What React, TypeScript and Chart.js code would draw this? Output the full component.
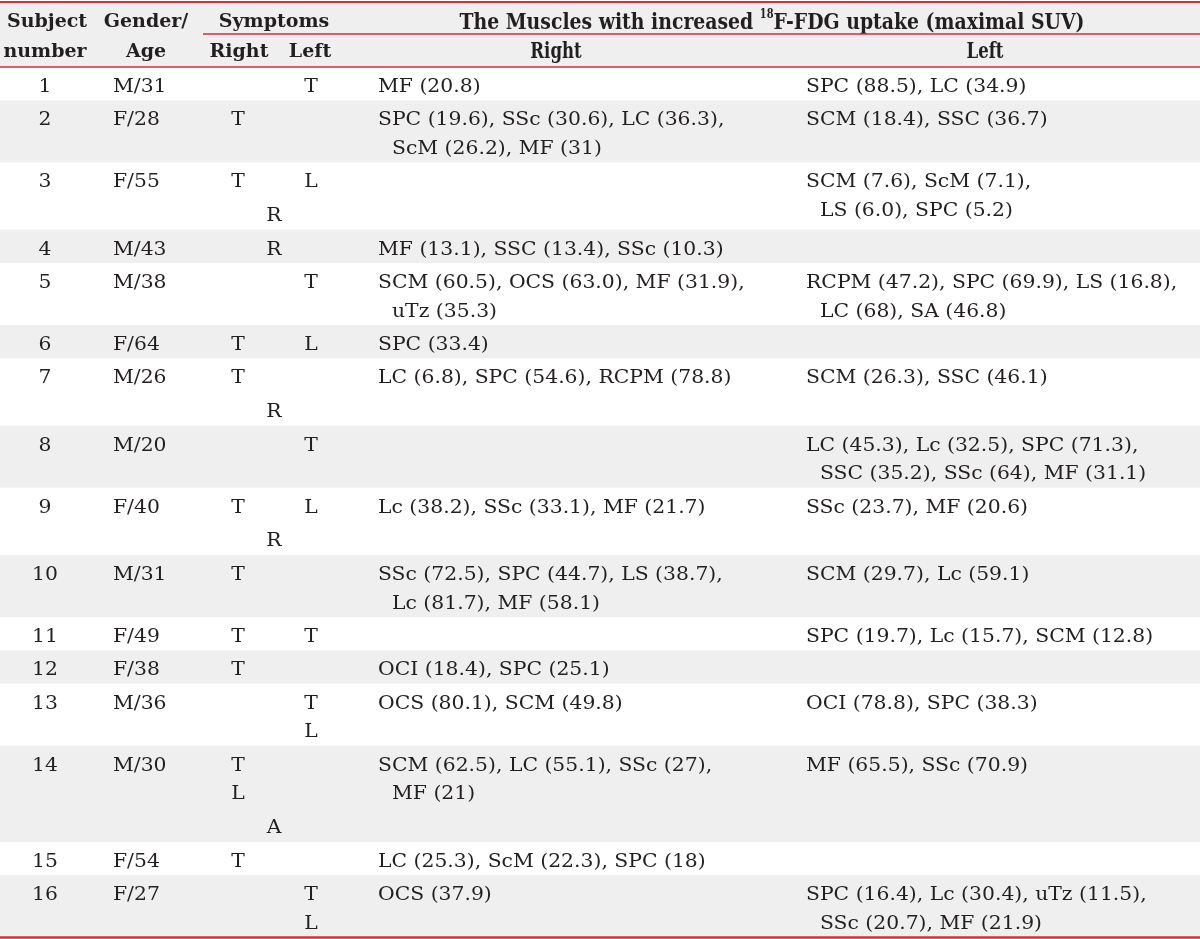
import React, { useEffect, useRef } from "react";
import { Chart, registerables } from "chart.js";

Chart.register(...registerables);

// ---------- DATA ----------
const subjectNumbers = ["1", "2", "3", "4", "5", "6", "7", "8", "9", "10", "11", "12", "13", "14", "15", "16"];
const genderAge = ["M/31", "F/28", "F/55", "M/43", "M/38", "F/64", "M/26", "M/20", "F/40", "M/31", "F/49", "F/38", "M/36", "M/30", "F/54", "F/27"];
const symptomRight: string[][] = [[], ["T"], ["T"], [], [], ["T"], ["T"], [], ["T"], ["T"], ["T"], ["T"], [], ["T", "L"], ["T"], []];
const symptomLeft: string[][] = [["T"], [], ["L"], [], ["T"], ["L"], [], ["T"], ["L"], [], ["T"], [], ["T", "L"], [], [], ["T", "L"]];
const symptomBothText = ["", "", "R", "R", "", "", "R", "", "R", "", "", "", "", "A", "", ""];
const symptomBothLine = [0, 0, 2, 1, 0, 0, 2, 0, 2, 0, 0, 0, 0, 3, 0, 0];
const musclesRight: string[][] = [
  ["MF (20.8)"],
  ["SPC (19.6), SSc (30.6), LC (36.3),", "ScM (26.2), MF (31)"],
  [],
  ["MF (13.1), SSC (13.4), SSc (10.3)"],
  ["SCM (60.5), OCS (63.0), MF (31.9),", "uTz (35.3)"],
  ["SPC (33.4)"],
  ["LC (6.8), SPC (54.6), RCPM (78.8)"],
  [],
  ["Lc (38.2), SSc (33.1), MF (21.7)"],
  ["SSc (72.5), SPC (44.7), LS (38.7),", "Lc (81.7), MF (58.1)"],
  [],
  ["OCI (18.4), SPC (25.1)"],
  ["OCS (80.1), SCM (49.8)"],
  ["SCM (62.5), LC (55.1), SSc (27),", "MF (21)"],
  ["LC (25.3), ScM (22.3), SPC (18)"],
  ["OCS (37.9)"],
];
const musclesLeft: string[][] = [
  ["SPC (88.5), LC (34.9)"],
  ["SCM (18.4), SSC (36.7)"],
  ["SCM (7.6), ScM (7.1),", "LS (6.0), SPC (5.2)"],
  [],
  ["RCPM (47.2), SPC (69.9), LS (16.8),", "LC (68), SA (46.8)"],
  [],
  ["SCM (26.3), SSC (46.1)"],
  ["LC (45.3), Lc (32.5), SPC (71.3),", "SSC (35.2), SSc (64), MF (31.1)"],
  ["SSc (23.7), MF (20.6)"],
  ["SCM (29.7), Lc (59.1)"],
  ["SPC (19.7), Lc (15.7), SCM (12.8)"],
  [],
  ["OCI (78.8), SPC (38.3)"],
  ["MF (65.5), SSc (70.9)"],
  [],
  ["SPC (16.4), Lc (30.4), uTz (11.5),", "SSc (20.7), MF (21.9)"],
];
const headerTop = ["Subject", "Gender/", "Symptoms"];
const headerBottom = ["number", "Age", "Right", "Left", "Right", "Left"];
const headerMuscles = ["The Muscles with increased ", "18", "F-FDG uptake (maximal SUV)"];

// ---------- STYLE ----------
const W = 1200;
const H = 939;
const RED = "#d2313c";
const GREY = "#efefef";
const INK = "#231f20";
const BODY_FONT = "18px 'DejaVu Serif'";
const BODY_SX = 1.13;
const HEAD_FONT = "bold 19px 'DejaVu Serif'";
const COND_FONT = "bold 23px 'DejaVu Serif'";

const tablePlugin = {
  id: "tablePlugin",
  afterDraw(chart: any) {
    const ctx: CanvasRenderingContext2D = chart.ctx;
    const xs = chart.scales.x;
    const ys = chart.scales.y;
    const X = (v: number) => xs.getPixelForValue(v);
    const Y = (v: number) => ys.getPixelForValue(v);

    const txt = (t: string, x: number, y: number, align: CanvasTextAlign, font: string, sx = 1) => {
      ctx.save();
      ctx.font = font;
      ctx.fillStyle = INK;
      ctx.textAlign = align;
      ctx.textBaseline = "alphabetic";
      ctx.translate(X(x), Y(y));
      ctx.scale(sx, 1);
      ctx.fillText(t, 0, 0);
      ctx.restore();
    };
    const hline = (x0: number, x1: number, y: number, w: number) => {
      ctx.save();
      ctx.strokeStyle = RED;
      ctx.lineWidth = w;
      ctx.beginPath();
      ctx.moveTo(X(x0), Y(y));
      ctx.lineTo(X(x1), Y(y));
      ctx.stroke();
      ctx.restore();
    };
    const rect = (x0: number, x1: number, y0: number, y1: number, c: string) => {
      ctx.save();
      ctx.fillStyle = c;
      ctx.fillRect(X(x0), Y(y0), X(x1) - X(x0), Y(y1) - Y(y0));
      ctx.restore();
    };

    // header
    rect(0, W, 3, 67, GREY);
    txt(headerTop[0], 47, 27, "center", HEAD_FONT);
    txt(headerBottom[0], 45, 57, "center", HEAD_FONT);
    txt(headerTop[1], 146, 27, "center", HEAD_FONT);
    txt(headerBottom[1], 146, 57, "center", HEAD_FONT);
    txt(headerTop[2], 274, 27, "center", HEAD_FONT);
    txt(headerBottom[2], 239, 57, "center", HEAD_FONT);
    txt(headerBottom[3], 310, 57, "center", HEAD_FONT);
    txt(headerBottom[4], 556, 58, "center", COND_FONT, 0.72);
    txt(headerBottom[5], 985, 58, "center", COND_FONT, 0.72);

    // muscles header (condensed, with superscript)
    {
      const supFont = "bold 12px 'DejaVu Serif'";
      ctx.save();
      ctx.font = COND_FONT;
      const w1 = ctx.measureText(headerMuscles[0]).width;
      const w3 = ctx.measureText(headerMuscles[2]).width;
      ctx.font = supFont;
      const w2 = ctx.measureText(headerMuscles[1]).width;
      ctx.restore();
      const natural = w1 + w2 + w3;
      const target = 625;
      const sx = target / natural;
      const left = 772 - target / 2;
      txt(headerMuscles[0], left, 29, "left", COND_FONT, sx);
      txt(headerMuscles[1], left + w1 * sx, 18, "left", supFont, sx);
      txt(headerMuscles[2], left + (w1 + w2) * sx, 29, "left", COND_FONT, sx);
    }

    // body rows
    let top = 67;
    for (let i = 0; i < subjectNumbers.length; i++) {
      const n = Math.max(
        1,
        symptomRight[i].length,
        symptomLeft[i].length,
        musclesRight[i].length,
        musclesLeft[i].length,
        symptomBothLine[i]
      );
      const extra = symptomBothLine[i] > 1 ? 5.4 : 0;
      const h = 33.3 + 28.7 * (n - 1) + extra;
      if (i % 2 === 1) rect(0, W, top, top + h, GREY);
      const base = (k: number) => top + 25 + 28.7 * k;
      txt(subjectNumbers[i], 45, base(0), "center", BODY_FONT, BODY_SX);
      txt(genderAge[i], 113, base(0), "left", BODY_FONT, BODY_SX);
      symptomRight[i].forEach((s, k) => txt(s, 238, base(k), "center", BODY_FONT, BODY_SX));
      symptomLeft[i].forEach((s, k) => txt(s, 311, base(k), "center", BODY_FONT, BODY_SX));
      if (symptomBothText[i]) {
        const k = symptomBothLine[i] - 1;
        txt(symptomBothText[i], 274, base(k) + (k > 0 ? 4.5 : 0), "center", BODY_FONT, BODY_SX);
      }
      musclesRight[i].forEach((s, k) => txt(s, k === 0 ? 378 : 392, base(k), "left", BODY_FONT, BODY_SX));
      musclesLeft[i].forEach((s, k) => txt(s, k === 0 ? 806 : 820, base(k), "left", BODY_FONT, BODY_SX));
      top += h;
    }

    // rules
    hline(0, W, 2, 2);
    hline(203, W, 34, 1.5);
    hline(0, W, 67, 1.5);
    hline(0, W, top + 0.5, 2.5);
  },
};

export default function App() {
  const ref = useRef<HTMLCanvasElement | null>(null);
  useEffect(() => {
    document.body.style.margin = "0";
    const canvas = ref.current;
    if (!canvas) return;
    const chart = new Chart(canvas, {
      type: "scatter",
      data: { datasets: [{ data: [], pointRadius: 0 }] },
      options: {
        animation: false,
        responsive: false,
        devicePixelRatio: 1,
        layout: { padding: 0 },
        plugins: { legend: { display: false }, tooltip: { enabled: false } },
        scales: {
          x: { type: "linear", min: 0, max: W, display: false },
          y: { type: "linear", min: 0, max: H, reverse: true, display: false },
        },
      },
      plugins: [tablePlugin],
    });
    return () => chart.destroy();
  }, []);
  return (
    <div style={{ width: W, height: H, background: "#ffffff" }}>
      <canvas ref={ref} width={W} height={H} style={{ display: "block" }} />
    </div>
  );
}
